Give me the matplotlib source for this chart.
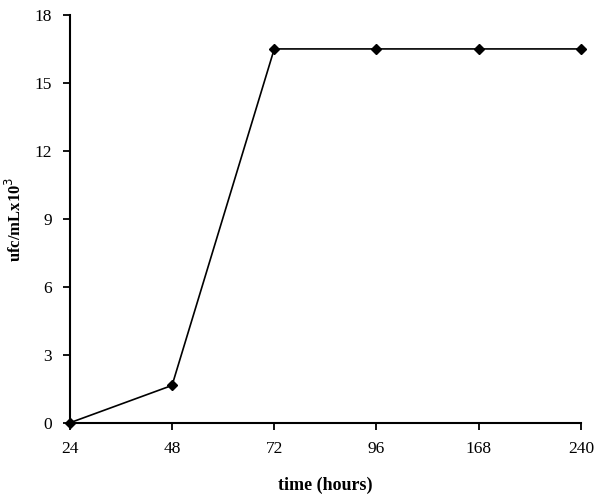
import matplotlib
matplotlib.use('Agg')
import matplotlib.pyplot as plt

time_labels = ['24', '48', '72', '96', '168', '240']
ufc_values = [0, 1.65, 16.5, 16.5, 16.5, 16.5]
y_ticks = [0, 3, 6, 9, 12, 15, 18]

plt.rcParams['font.family'] = ['Liberation Serif', 'DejaVu Serif']

fig = plt.figure(figsize=(5.97, 4.98), dpi=100)
ax = fig.add_axes([0.117, 0.151, 0.856, 0.819])

x = list(range(len(time_labels)))
ax.plot(x, ufc_values, color='black', linewidth=1.2, marker='D', markersize=5.5, clip_on=False, zorder=3)

ax.set_xlim(0, len(time_labels) - 1)
ax.set_ylim(0, 18)
ax.set_xticks(x)
ax.set_xticklabels(time_labels)
ax.set_yticks(y_ticks)

for s in ['top', 'right']:
	ax.spines[s].set_visible(False)
for s in ['left', 'bottom']:
	ax.spines[s].set_linewidth(1.5)

ax.tick_params(axis='both', direction='out', length=5, width=1.3, labelsize=12.5, pad=8)
ax.set_xlabel('time (hours)', fontsize=13, fontweight='bold', labelpad=14)
ax.set_ylabel(r'ufc/mLx10$^{3}$', fontsize=12, fontweight='bold')
ax.yaxis.set_label_coords(-0.088, 0.5)

fig.savefig('out.png', dpi=100)
